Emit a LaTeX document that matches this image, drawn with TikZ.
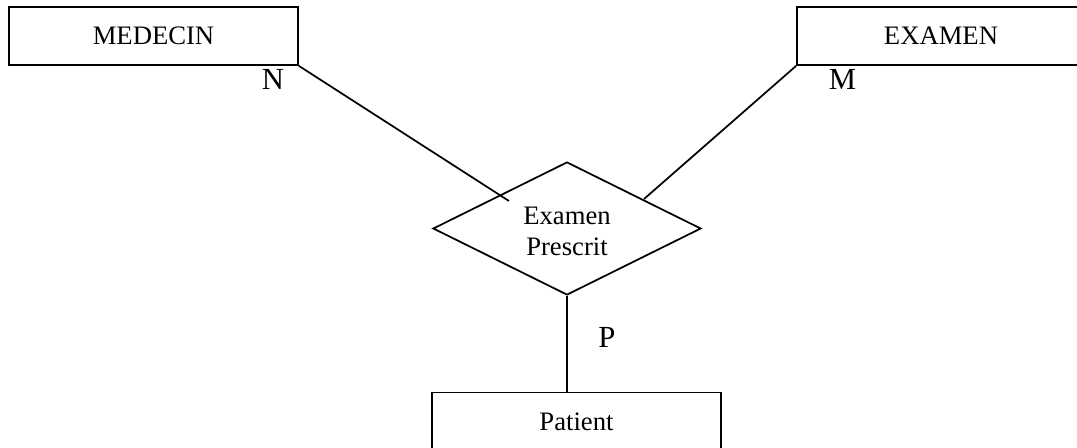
\documentclass[tikz,border=0pt]{standalone}
\usepackage{fontspec}
\setmainfont{Liberation Serif}
\usetikzlibrary{shapes.geometric}
\begin{document}
\begin{tikzpicture}[x=0.75pt,y=-0.75pt,
  lw/.style={line width=1.3pt},
  entity/.style={draw,lw,rectangle,inner sep=0pt,minimum width=216.75pt,minimum height=43.5pt,font=\fontsize{20pt}{23.25pt}\selectfont},
  relation/.style={draw,lw,diamond,inner sep=0pt,minimum width=201pt,minimum height=99.75pt},
  reltext/.style={align=center,inner sep=0pt,font=\fontsize{20pt}{23.25pt}\selectfont},
  card/.style={inner sep=0pt,font=\fontsize{23pt}{27pt}\selectfont},
  link/.style={lw}]
\useasboundingbox (0,0) rectangle (1077,447);
\node[entity] (med) at (153.5,36) {MEDECIN};
\node[entity,minimum width=216pt] (exa) at (941,36) {EXAMEN};
\node[entity] (pat) at (576.5,421.5) {Patient};
\node[relation] (dia) at (567,228.5) {};
\node[reltext] (diatext) at (567,231) {Examen\\Prescrit};
\coordinate (c1) at (509,201);
\coordinate (c2) at (644,199);
\draw[link] (med.south east) -- (c1);
\draw[link] (exa.south west) -- (c2);
\draw[link] (dia.south) -- (dia.south |- pat.north);
\node[card] (n) at (273,79) {N};
\node[card] (m) at (842.5,79) {M};
\node[card] (p) at (607,337.5) {P};
\end{tikzpicture}
\end{document}
